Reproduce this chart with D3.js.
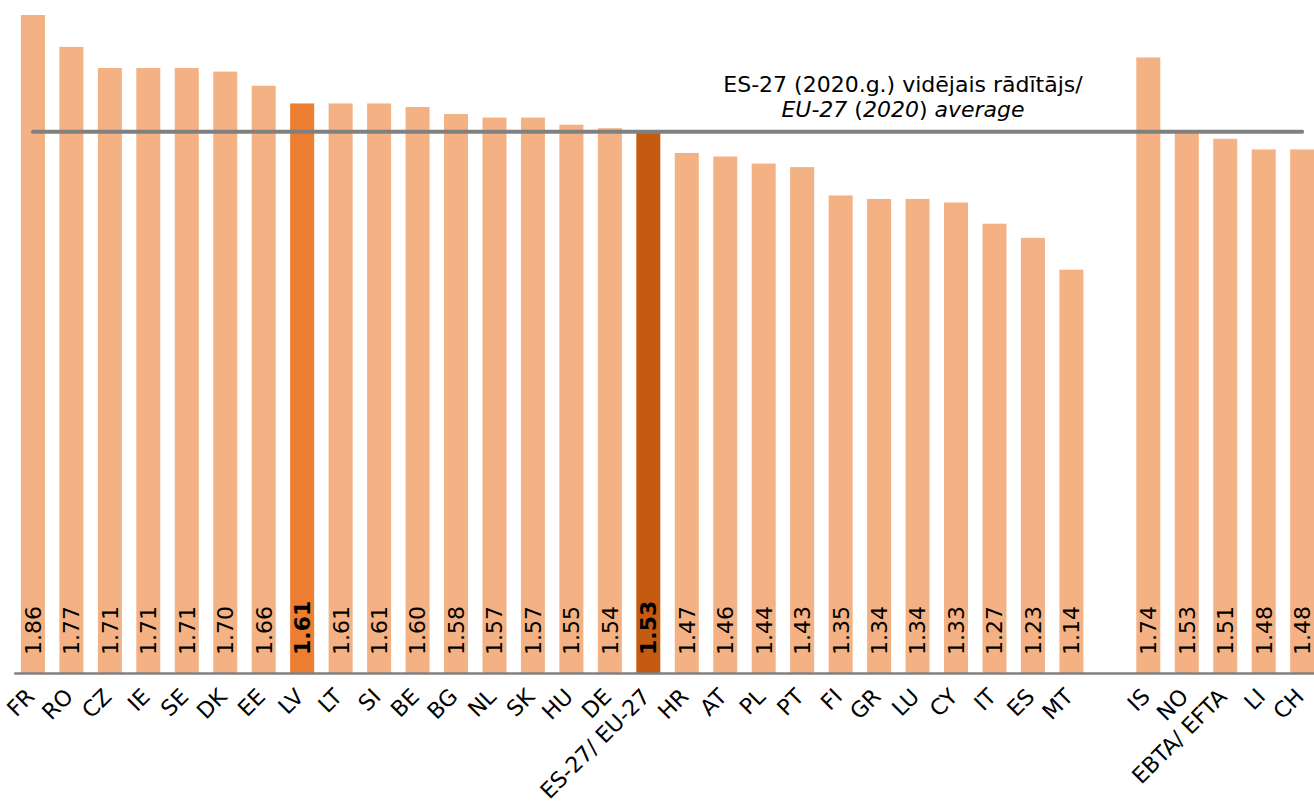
<!DOCTYPE html>
<html><head><meta charset="utf-8">
<script src="https://cdn.jsdelivr.net/npm/d3@7"></script>
<style>body{margin:0;background:#fff}svg{display:block}text{font-family:"DejaVu Sans",Verdana,sans-serif}</style>
</head><body><svg id="c" width="1314" height="806"></svg>
<script>
const categories = ["FR","RO","CZ","IE","SE","DK","EE","LV","LT","SI","BE","BG","NL","SK","HU","DE","ES-27/ EU-27","HR","AT","PL","PT","FI","GR","LU","CY","IT","ES","MT","","IS","NO","EBTA/ EFTA","LI","CH"];
const values = [1.86,1.77,1.71,1.71,1.71,1.70,1.66,1.61,1.61,1.61,1.60,1.58,1.57,1.57,1.55,1.54,1.53,1.47,1.46,1.44,1.43,1.35,1.34,1.34,1.33,1.27,1.23,1.14,null,1.74,1.53,1.51,1.48,1.48];
const highlight = {"LV":"#ED7D31","ES-27/ EU-27":"#C55A11"};
const average = 1.53;
const avgLabel1 = "ES-27 (2020.g.) vidējais rādītājs/";

const svg = d3.select("#c");
const x = d3.scaleBand().domain(categories).range([13.7,1321.4]).paddingInner(0.376).paddingOuter(0.188);
const y = d3.scaleLinear().domain([0,1.86]).range([673,15]);
const data = categories.map((c,i)=>({c,v:values[i]})).filter(d=>d.c!=="" && d.v!=null);

svg.selectAll("rect.bar").data(data).join("rect").attr("class","bar")
  .attr("x",d=>x(d.c)).attr("width",x.bandwidth())
  .attr("y",d=>y(d.v)).attr("height",d=>y(0)-y(d.v))
  .attr("fill",d=>highlight[d.c]||"#F4B183");

svg.selectAll("text.val").data(data).join("text").attr("class","val")
  .attr("transform",d=>`translate(${x(d.c)+x.bandwidth()/2},655) rotate(-90)`)
  .attr("dy","0.36em").attr("font-size",22)
  .attr("font-weight",d=>highlight[d.c]?"bold":"normal")
  .attr("fill","#000")
  .text(d=>d.v.toFixed(2));

// axis
const ax = svg.append("g").attr("transform","translate(0,673)")
  .call(d3.axisBottom(x).tickSize(0).tickSizeOuter(0));
ax.select(".domain").attr("stroke","#808080").attr("stroke-width",2.5);
ax.selectAll(".tick text")
  .attr("font-size",22).attr("fill","#000")
  .attr("text-anchor","end").attr("dy",null).attr("y",0)
  .attr("transform","translate(3,25) rotate(-45)");

// average line
const first = categories[0], last = categories[categories.length-1];
svg.append("line")
  .attr("x1",x(first)+x.bandwidth()/2).attr("x2",x(last)+x.bandwidth()/2)
  .attr("y1",y(average)).attr("y2",y(average))
  .attr("stroke","#808080").attr("stroke-width",4).attr("stroke-linecap","round");

const t = svg.append("g").attr("font-size",22).attr("text-anchor","middle").attr("fill","#000");
t.append("text").attr("x",903).attr("y",92).text(avgLabel1);
const t2 = t.append("text").attr("x",903).attr("y",117);
[["EU-27",true],[" (",false],["2020",true],[") ",false],["average",true]].forEach(([s,it])=>{
  t2.append("tspan").attr("font-style",it?"italic":"normal").text(s);
});
</script></body></html>
